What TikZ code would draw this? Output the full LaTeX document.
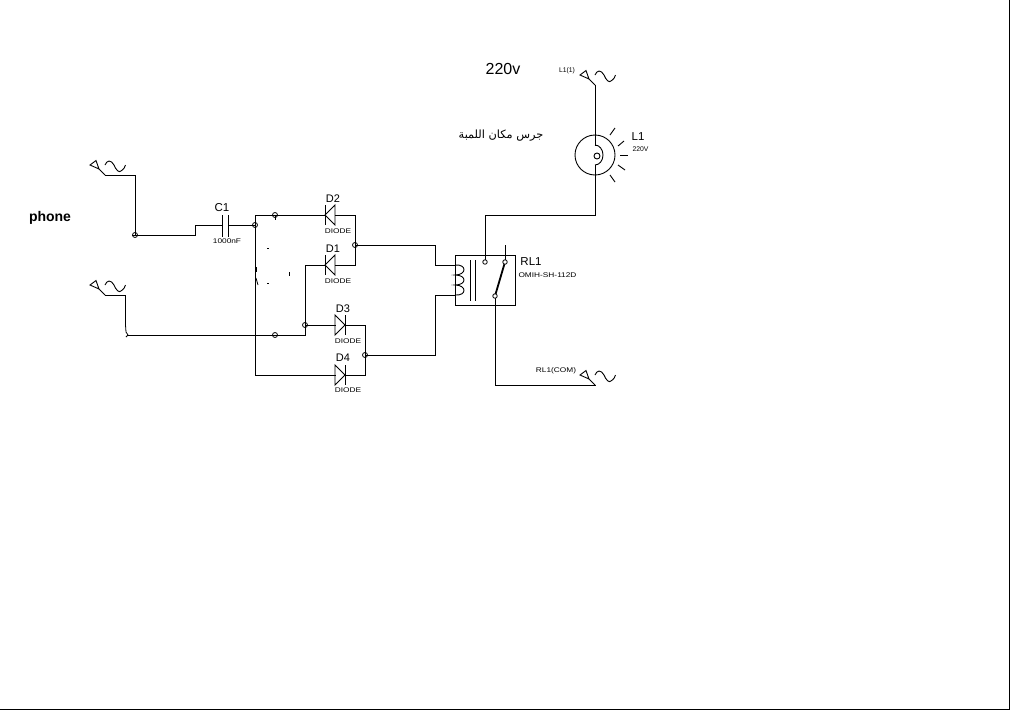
\documentclass[tikz,border=0pt]{standalone}
\usepackage{graphicx}
\usepackage{fontspec}
\setmainfont{Liberation Sans}
\newfontfamily\arabicfont[Script=Arabic]{DejaVu Sans}
\TeXXeTstate=1
\newcommand{\widesmall}[1]{\scalebox{1.22}[1]{#1}}
\tikzset{
  wire/.style={draw=black,line width=1pt,line cap=rect},
  thin part/.style={draw=black,line width=0.9pt},
  junction/.style={circle,draw=black,line width=0.8pt,inner sep=0pt,minimum size=5pt},
  contact/.style={junction,fill=white,minimum size=4.5pt},
  lab/.style={inner sep=0pt,font=\fontsize{11}{13}\selectfont},
  tiny lab/.style={inner sep=0pt,font=\fontsize{6.8}{8}\selectfont},
  srcsym/.pic={
    \draw[thin part] (-9,-14.5) -- (-15,-10) -- (-6,-6) -- cycle;
    \draw[thin part] (-6,-6) -- (0,0);
    \draw[thin part] (0,-10) .. controls (2,-15) and (6,-15.5) .. (9,-10)
      .. controls (11,-5) and (14,-2) .. (16,-4) .. controls (19,-6) and (20,-8) .. (20.5,-10);
  },
  diodeL/.pic={
    \draw[thin part] (0,-10) -- (0,10);
    \draw[thin part] (0,0) -- (10,-10) -- (10,10) -- cycle;
  },
  diodeR/.pic={
    \draw[thin part] (10,-10) -- (10,10);
    \draw[thin part] (10,0) -- (0,-10) -- (0,10) -- cycle;
  }
}
\begin{document}
\begin{tikzpicture}[x=1pt,y=-1pt]
\useasboundingbox (0,0) rectangle (1010,710);
\fill[white] (0,0) rectangle (1010,710);
\draw[line width=1pt] (0,709.5) -- (1009.5,709.5) -- (1009.5,0);

% sources
\coordinate (s1) at (105,175);
\coordinate (s2) at (105,295);
\coordinate (s3) at (595,385);
\coordinate (s4) at (595,85);
\pic at (s1) {srcsym};
\pic at (s2) {srcsym};
\pic at (s3) {srcsym};
\pic at (s4) {srcsym};

% junction positions
\coordinate (jA) at (135,235);
\coordinate (jB) at (255,225);
\coordinate (jC) at (275,215);
\coordinate (jD) at (355,245);
\coordinate (jE) at (305,325);
\coordinate (jF) at (275,335);
\coordinate (jG) at (365,355);
\coordinate (c1l) at (222,225);
\coordinate (c1r) at (228,225);
\coordinate (d1a) at (335,265);
\coordinate (d1k) at (325,265);
\coordinate (d2a) at (335,215);
\coordinate (d2k) at (325,215);
\coordinate (d3a) at (335,325);
\coordinate (d3k) at (345,325);
\coordinate (d4a) at (335,375);
\coordinate (d4k) at (345,375);
\coordinate (coilT) at (455,265);
\coordinate (coilB) at (455,295);
\coordinate (k1) at (485,262);
\coordinate (k2) at (505,262);
\coordinate (kc) at (495,296);
\coordinate (lampT) at (595,135);
\coordinate (lampB) at (595,175);

% wires
\draw[wire] (s1) -- (135,175) -- (jA);
\draw[wire] (132,235) -- (195,235) -- (195,225) -- (c1l);
\draw[wire] (c1r) -- (jB);
\draw[wire] (255,215) -- (255,375) -- (d4a);
\draw[wire] (255,215) -- (d2k);
\draw[wire] (275,215) -- (275,219);
\draw[wire] (s2) -- (125,295) -- (125,325);
\draw[wire] (127,335) -- (305,335) -- (305,265) -- (d1k);
\draw[wire] (jE) -- (d3a);
\draw[wire] (d2a) -- (355,215) -- (355,265) -- (d1a);
\draw[wire] (jD) -- (435,245) -- (435,265) -- (coilT);
\draw[wire] (d3k) -- (365,325) -- (365,375) -- (d4k);
\draw[wire] (jG) -- (435,355) -- (435,295) -- (coilB);
\draw[wire] (k1) -- (485,215) -- (595,215) -- (lampB);
\draw[wire] (k2) -- (505,245);
\draw[wire] (kc) -- (495,385) -- (s3);
\draw[wire] (s4) -- (lampT);
\draw[wire] (lampT) -- (595,145);
\draw[wire] (595,165) -- (lampB);

% capacitor
\draw[wire] (222,215) -- (222,236);
\draw[wire] (228,215) -- (228,236);

% diodes
\pic at (d1k) {diodeL};
\pic at (d2k) {diodeL};
\pic at (d3a) {diodeR};
\pic at (d4a) {diodeR};

% relay
\draw[wire] (455.5,255) rectangle (515.5,305);
\draw[thin part] (455,265) .. controls (467,264) and (467,275) .. (455,275)
  .. controls (467,275) and (467,285) .. (455,285)
  .. controls (467,285) and (467,296) .. (455,295);
\draw[wire] (470,260) -- (470,300);
\draw[wire] (475,260) -- (475,300);
\draw[line width=1.8pt] (k2) -- (kc);
\node[contact] (rk1) at (k1) {};
\node[contact] (rk2) at (k2) {};
\node[contact] (rkc) at (kc) {};

% lamp
\draw[thin part] (595,155) circle (20);
\draw[thin part] (595,145) arc (-90:90:8 and 10);
\draw[thin part] (597,156) circle (3);
\foreach \a/\b/\c/\d in {610/135/615/128,618/146/624/141,620/155/628/155,618/165/625/170,610/175/615/182}
  \draw[thin part] (\a,\b) -- (\c,\d);

% junction dots
\foreach \n in {jA,jB,jC,jD,jE,jF,jG}
  \node[junction] at (\n) {};

% specks
\foreach \a/\b/\c/\d in {267/248/269/248,289/272/289/276,267/283/269/283,256/267/256/272,256/278/258/285,125.5/325/126/332,126/332/128/335,128/335/126/337}
  \draw[line width=0.8pt] (\a,\b) -- (\c,\d);

% labels
\node[lab,font=\fontsize{11.5}{13}\selectfont] (tC1) at (222,208) {C1};
\node[tiny lab] (tC1v) at (227,241) {\widesmall{1000nF}};
\node[lab] (tD2) at (333,199) {D2};
\node[lab] (tD1) at (333,249) {D1};
\node[lab] (tD3) at (343,309) {D3};
\node[lab] (tD4) at (343,358) {D4};
\node[tiny lab] (tD2v) at (338,231) {\widesmall{DIODE}};
\node[tiny lab] (tD1v) at (338,281) {\widesmall{DIODE}};
\node[tiny lab] (tD3v) at (348,341) {\widesmall{DIODE}};
\node[tiny lab] (tD4v) at (348,390) {\widesmall{DIODE}};
\node[lab,font=\fontsize{11.5}{13}\selectfont] (tRL) at (531,262) {RL1};
\node[tiny lab] (tRLv) at (547.5,275) {\widesmall{OMIH-SH-112D}};
\node[tiny lab] (tRLc) at (556,371) {\widesmall{RL1(COM)}};
\node[tiny lab] (tL1s) at (567,71) {L1(1)};
\node[lab,font=\fontsize{11.5}{13}\selectfont] (tL1) at (638,137) {L1};
\node[tiny lab] (tL1v) at (640.5,149) {220V};
\node[inner sep=0pt,font=\fontsize{16}{18}\selectfont] (t220) at (503,69) {220v};
\node[inner sep=0pt,font=\bfseries\fontsize{14}{16}\selectfont] (tph) at (50,218) {phone};
\node[inner sep=0pt,font=\fontsize{11.3}{14}\selectfont] (tar) at (501,136) {\arabicfont\beginR جرس مكان اللمبة\endR};
\end{tikzpicture}
\end{document}
